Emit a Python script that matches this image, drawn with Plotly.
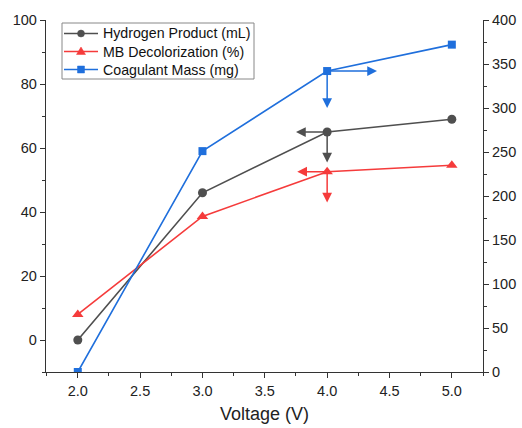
import plotly.graph_objects as go

voltage = [2.0, 3.0, 4.0, 5.0]
hydrogen = [0, 46, 65, 69]
mb_decol = [8, 38.6, 52.6, 54.6]
coagulant = [0, 251, 342, 372]
series_names = ["Hydrogen Product (mL)", "MB Decolorization (%)", "Coagulant Mass (mg)"]

# arrows at the 4.0 V point: (tail x, tail y, head x, head y)
h_arrows = [(4.0, 65, 3.75, 65), (4.0, 65, 4.0, 55.5)]
mb_arrows = [(4.0, 52.6, 3.76, 52.6), (4.0, 52.6, 4.0, 43)]
c_arrows = [(4.0, 342, 4.4, 342), (4.0, 342, 4.0, 300)]

c_h = "#4f4f4f"
c_mb = "#f53b3b"
c_c = "#1f6fdc"
axc = "#333333"
ff = "Liberation Sans, Arial, sans-serif"

W, H = 522, 428
ML, MR, MT, MB = 46, 39, 20, 56
PW, PH = W - ML - MR, H - MT - MB

def px(x):
    return (x - ML) / PW

def py(y):
    return (H - MB - y) / PH

fig = go.Figure()
fig.add_trace(go.Scatter(x=voltage, y=hydrogen, name=series_names[0],
                         mode="lines+markers", line=dict(color=c_h, width=1.6),
                         marker=dict(symbol="circle", size=9, color=c_h), showlegend=False))
fig.add_trace(go.Scatter(x=voltage, y=mb_decol, name=series_names[1],
                         mode="lines+markers", line=dict(color=c_mb, width=1.6),
                         marker=dict(symbol="triangle-up", size=10, color=c_mb), showlegend=False))
fig.add_trace(go.Scatter(x=voltage, y=coagulant, name=series_names[2],
                         mode="lines+markers", line=dict(color=c_c, width=1.6),
                         marker=dict(symbol="square", size=8, color=c_c), yaxis="y2",
                         showlegend=False))

anns = []
for arr, col, yr in [(h_arrows, c_h, "y"), (mb_arrows, c_mb, "y"), (c_arrows, c_c, "y2")]:
    for tx, ty, hx, hy in arr:
        anns.append(dict(x=hx, y=hy, ax=tx, ay=ty, xref="x", yref=yr, axref="x", ayref=yr,
                         showarrow=True, arrowhead=2, arrowsize=1.3, arrowwidth=1.5,
                         arrowcolor=col, text="", standoff=0, startstandoff=0))

# manual legend (box, line samples, markers, labels)
shapes = [dict(type="rect", xref="paper", yref="paper", x0=px(62), x1=px(254), y0=py(23), y1=py(79),
               line=dict(color="#888888", width=1), fillcolor="white", layer="above")]
rows = [33.5, 51.5, 69.5]
colors = [c_h, c_mb, c_c]
for i, (r, col, name) in enumerate(zip(rows, colors, series_names)):
    shapes.append(dict(type="line", xref="paper", yref="paper", x0=px(64), x1=px(98),
                       y0=py(r), y1=py(r), line=dict(color=col, width=1.6), layer="above"))
    common = dict(xref="paper", yref="paper", xsizemode="pixel", ysizemode="pixel",
                  xanchor=px(81), yanchor=py(r), fillcolor=col,
                  line=dict(color=col, width=0.5), layer="above")
    if i == 0:
        shapes.append(dict(type="circle", x0=-3.5, x1=3.5, y0=-3.5, y1=3.5, **common))
    elif i == 1:
        shapes.append(dict(type="path", path="M-4.5,-3 L4.5,-3 L0,4.5 Z", **common))
    else:
        shapes.append(dict(type="rect", x0=-3.5, x1=3.5, y0=-3.5, y1=3.5, **common))
    anns.append(dict(x=px(101), y=py(r), xref="paper", yref="paper", xanchor="left",
                     yanchor="middle", showarrow=False, text=name,
                     font=dict(family=ff, size=14.2, color="#111111")))

fig.update_layout(
    width=W, height=H,
    margin=dict(l=ML, r=MR, t=MT, b=MB),
    plot_bgcolor="white", paper_bgcolor="white",
    font=dict(family=ff, size=14.5, color="#222222"),
    showlegend=False,
    annotations=anns,
    shapes=shapes,
    xaxis=dict(range=[1.745, 5.25], tickvals=[2.0, 2.5, 3.0, 3.5, 4.0, 4.5, 5.0],
               ticktext=["2.0", "2.5", "3.0", "3.5", "4.0", "4.5", "5.0"],
               showline=True, linecolor=axc, linewidth=1.3, ticks="outside", ticklen=5,
               tickcolor=axc, showgrid=False, zeroline=False, automargin=False,
               minor=dict(dtick=0.25, tick0=2.0, ticks="outside", ticklen=3, tickcolor=axc),
               title=dict(text="Voltage (V)", font=dict(size=18, family=ff, color="#222222"), standoff=9)),
    yaxis=dict(range=[-10, 100], tickvals=[0, 20, 40, 60, 80, 100],
               showline=True, linecolor=axc, linewidth=1.3, ticks="outside", ticklen=5,
               tickcolor=axc, showgrid=False, zeroline=False, automargin=False,
               minor=dict(dtick=10, tick0=0, ticks="outside", ticklen=3, tickcolor=axc)),
    yaxis2=dict(range=[0, 400], tickvals=[0, 50, 100, 150, 200, 250, 300, 350, 400],
                overlaying="y", side="right", anchor="x", automargin=False,
                showline=True, linecolor=axc, linewidth=1.3, ticks="outside", ticklen=5,
                tickcolor=axc, showgrid=False, zeroline=False,
                minor=dict(dtick=25, tick0=0, ticks="outside", ticklen=3, tickcolor=axc)),
)
fig.write_html("out.html")
